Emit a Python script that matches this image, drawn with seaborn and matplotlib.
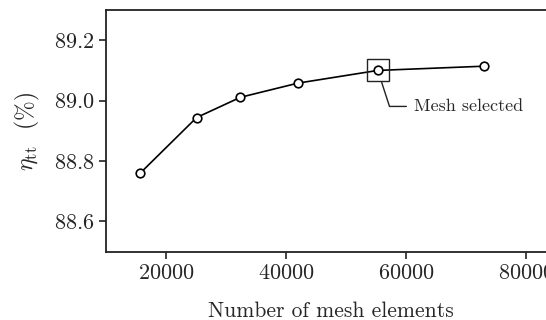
import matplotlib
matplotlib.use("Agg")
import matplotlib.pyplot as plt
import seaborn as sns
import pandas as pd

mesh_elements = [15700, 25100, 32400, 42000, 55300, 73000]
efficiency = [88.760, 88.944, 89.011, 89.058, 89.100, 89.114]
selected_index = 4
x_ticks = [20000, 40000, 60000, 80000]
y_ticks = [88.6, 88.8, 89.0, 89.2]

sns.set_style("ticks")
plt.rcParams["font.family"] = "serif"
plt.rcParams["font.serif"] = ["cmr10"]
plt.rcParams["mathtext.fontset"] = "cm"
plt.rcParams["axes.formatter.use_mathtext"] = True
plt.rcParams["axes.unicode_minus"] = False

df = pd.DataFrame({"mesh": mesh_elements, "eta": efficiency})

fig = plt.figure(figsize=(5.46, 3.2), dpi=100)
ax = fig.add_axes([106 / 546, (320 - 251.7) / 320, 450 / 546, 241.7 / 320])

sns.lineplot(data=df, x="mesh", y="eta", ax=ax, color="black", linewidth=1.2,
             marker="o", markersize=6.2, markerfacecolor="white",
             markeredgecolor="black", markeredgewidth=1.2, zorder=3)

sx, sy = mesh_elements[selected_index], efficiency[selected_index]
ax.plot([sx], [sy], marker="s", markersize=16, markerfacecolor="none",
        markeredgecolor="#222222", markeredgewidth=1.0, linestyle="none", zorder=4)

ax.annotate("Mesh selected", xy=(sx, sy), xytext=(36, -36), textcoords="offset pixels",
            ha="left", va="center", fontsize=13,
            arrowprops=dict(arrowstyle="-", color="#222222", lw=1.0,
                            connectionstyle="angle,angleA=180,angleB=-72,rad=0",
                            shrinkA=3, shrinkB=9))

ax.set_xlim(10000, 85000)
ax.set_ylim(88.5, 89.3)
ax.set_xticks(x_ticks)
ax.set_yticks(y_ticks)
ax.ticklabel_format(axis="x", style="plain", useOffset=False)
ax.tick_params(axis="both", labelsize=16, direction="out", length=5, width=1.2, color="#222222")
for s in ax.spines.values():
    s.set_linewidth(1.3)
    s.set_color("#222222")

ax.set_xlabel("Number of mesh elements", fontsize=15.5, labelpad=13)
ax.set_ylabel(r"$\eta_{\mathrm{tt}}$  (%)", fontsize=17, labelpad=8)

fig.savefig("out.png", dpi=100)
